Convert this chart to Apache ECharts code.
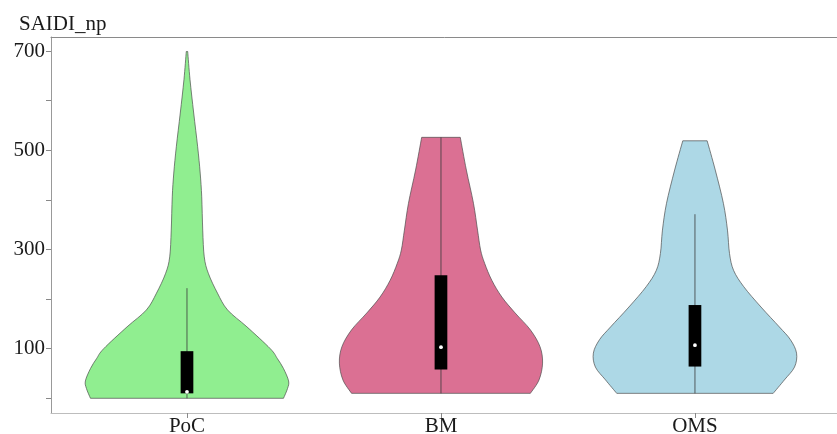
<!DOCTYPE html>
<html>
<head>
<meta charset="utf-8">
<script src="https://cdn.jsdelivr.net/npm/echarts@6/dist/echarts.min.js"></script>
<style>html,body{margin:0;padding:0;background:#fff;overflow:hidden;}#c{width:837px;height:434px;}</style>
</head>
<body>
<div id="c"></div>
<script>
var categories = ['PoC', 'BM', 'OMS'];
var yTickValues = [0, 100, 200, 300, 400, 500, 600, 700];
var yLabelValues = [100, 300, 500, 700];

// violin density profiles: value and relative half-width
var pocValues = [0, 20, 35, 60, 80, 100, 144, 178, 212, 252, 285, 339, 406, 454, 507, 575, 642, 699];
var pocWidths = [0.95, 0.99, 1.0, 0.95, 0.89, 0.82, 0.59, 0.40, 0.30, 0.21, 0.17, 0.155, 0.145, 0.13, 0.105, 0.066, 0.03, 0.007];
var bmValues = [10, 37, 71, 104, 138, 172, 204, 238, 272, 299, 339, 393, 460, 526];
var bmWidths = [0.88, 0.965, 1.0, 0.975, 0.88, 0.73, 0.60, 0.50, 0.43, 0.39, 0.36, 0.32, 0.25, 0.19];
var omsValues = [10, 37, 63, 91, 118, 144, 184, 225, 258, 292, 339, 393, 460, 519];
var omsWidths = [0.77, 0.88, 0.98, 1.0, 0.94, 0.83, 0.65, 0.48, 0.38, 0.34, 0.32, 0.28, 0.20, 0.12];

// box stats: [lower whisker, q1, median, q3, upper whisker]
var pocBox = [0, 10, 13, 95, 222];
var bmBox = [10, 58, 103, 248, 526];
var omsBox = [10, 64, 107, 188, 371];

var colors = ['#90EE90', '#DB7093', '#ADD8E6'];

var profiles = [
  {values: pocValues, widths: pocWidths, box: pocBox},
  {values: bmValues, widths: bmWidths, box: bmBox},
  {values: omsValues, widths: omsWidths, box: omsBox}
];

var halfMax = 0.4;
var boxHalf = 0.025;
var font = 'Liberation Serif';
var xMin = 0.4646, xMax = 3.638;

// smooth curve (Catmull-Rom as cubic bezier) through pixel points, continuing a path
function curveThrough(pts) {
  var d = '';
  for (var i = 0; i < pts.length - 1; i++) {
    var p0 = pts[i > 0 ? i - 1 : i];
    var p1 = pts[i];
    var p2 = pts[i + 1];
    var p3 = pts[i + 2 < pts.length ? i + 2 : i + 1];
    var t = 1 / 6;
    var c1x = p1[0] + (p2[0] - p0[0]) * t, c1y = p1[1] + (p2[1] - p0[1]) * t;
    var c2x = p2[0] - (p3[0] - p1[0]) * t, c2y = p2[1] - (p3[1] - p1[1]) * t;
    d += ' C' + c1x.toFixed(2) + ' ' + c1y.toFixed(2) + ' ' + c2x.toFixed(2) + ' ' + c2y.toFixed(2) + ' ' + p2[0].toFixed(2) + ' ' + p2[1].toFixed(2);
  }
  return d;
}

var chart = echarts.init(document.getElementById('c'), null, {renderer: 'canvas'});

chart.setOption({
  animation: false,
  title: {
    text: 'SAIDI_np', left: 14, top: 9,
    textStyle: {fontFamily: font, fontSize: 21, fontWeight: 'normal', color: '#1a1a1a'}
  },
  grid: {left: 51, right: -20, top: 37, bottom: 21, show: false,
         containLabel: false, outerBoundsMode: 'none'},
  xAxis: [{
    type: 'value', min: xMin, max: xMax,
    splitLine: {show: false},
    axisLine: {show: true, onZero: false, lineStyle: {color: '#bdbdbd', width: 1}},
    axisTick: {show: true, length: 5, customValues: [1, 2, 3], lineStyle: {color: '#888'}},
    axisLabel: {
      customValues: [1, 2, 3], margin: 3,
      fontFamily: font, fontSize: 21, color: '#1a1a1a',
      formatter: function (v) { return categories[Math.round(v) - 1] || ''; }
    }
  }, {
    type: 'value', position: 'top', min: xMin, max: xMax,
    splitLine: {show: false},
    axisLine: {show: true, onZero: false, lineStyle: {color: '#8a8a8a', width: 1}},
    axisTick: {show: false},
    axisLabel: {show: false}
  }],
  yAxis: {
    type: 'value', min: -29.6, max: 728.2,
    splitLine: {show: false},
    axisLine: {show: true, onZero: false, lineStyle: {color: '#999', width: 1}},
    axisTick: {show: true, length: 5, customValues: yTickValues, lineStyle: {color: '#888'}},
    axisLabel: {customValues: yLabelValues, margin: 6, fontFamily: font, fontSize: 21, color: '#1a1a1a'}
  },
  series: [{
    type: 'custom',
    xAxisIndex: 0,
    data: [[1], [2], [3]],
    renderItem: function (params, api) {
      var i = params.dataIndex;
      var p = profiles[i];
      var cx = i + 1;
      var left = [], right = [];
      var k;
      for (k = 0; k < p.values.length; k++) left.push(api.coord([cx - p.widths[k] * halfMax, p.values[k]]));
      for (k = p.values.length - 1; k >= 0; k--) right.push(api.coord([cx + p.widths[k] * halfMax, p.values[k]]));
      var d = 'M' + left[0][0].toFixed(2) + ' ' + left[0][1].toFixed(2) + curveThrough(left) +
        ' L' + right[0][0].toFixed(2) + ' ' + right[0][1].toFixed(2) + curveThrough(right) + ' Z';
      var b = p.box;
      var w0 = api.coord([cx, b[0]]);
      var w1 = api.coord([cx, b[4]]);
      var q1 = api.coord([cx - boxHalf, b[1]]);
      var q3 = api.coord([cx + boxHalf, b[3]]);
      var md = api.coord([cx, b[2]]);
      return {
        type: 'group',
        children: [
          {type: 'path', shape: {pathData: d},
           style: {fill: colors[i], stroke: '#4d4d4d', lineWidth: 0.7}},
          {type: 'line', shape: {x1: w0[0], y1: w0[1], x2: w1[0], y2: w1[1]},
           style: {stroke: '#3a3a3a', lineWidth: 0.8}},
          {type: 'rect', shape: {x: q1[0], y: q3[1], width: q3[0] - q1[0], height: q1[1] - q3[1]},
           style: {fill: '#000', stroke: null}},
          {type: 'circle', shape: {cx: md[0], cy: md[1], r: 1.9},
           style: {fill: '#fff', stroke: null}}
        ]
      };
    }
  }]
});
</script>
</body>
</html>
